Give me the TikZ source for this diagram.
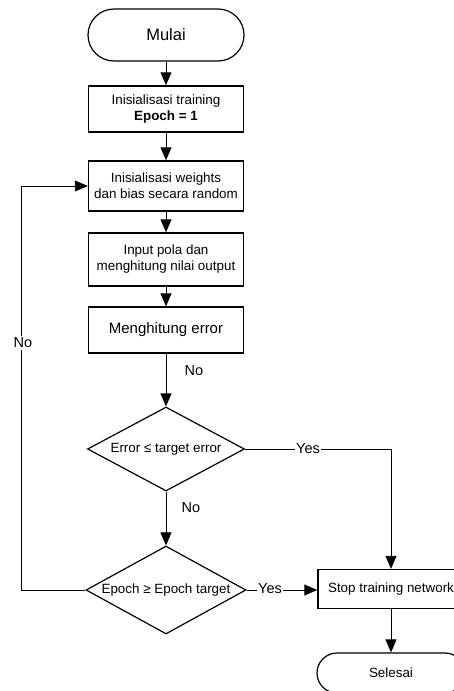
\documentclass[tikz,border=0pt]{standalone}
\usepackage{fontspec}
\setmainfont{Liberation Sans}
\usetikzlibrary{shapes.geometric,arrows.meta}
\begin{document}
\begin{tikzpicture}[x=1pt,y=-1pt,
  every node/.style={font=\fontsize{13.4}{16}\selectfont, align=center, text=black},
  procbox/.style={draw, line width=1.4pt, minimum width=155pt, inner sep=0pt},
  term/.style={draw, line width=1.2pt, rounded corners=#1, inner sep=0pt},
  decide/.style={draw, line width=1.2pt, shape=diamond, inner sep=0pt},
  conn/.style={line width=0.9pt, -{Triangle[length=13pt,width=11pt]}},
  lbl/.style={font=\fontsize{14.5}{16}\selectfont, fill=white, inner sep=1.5pt}
]
\useasboundingbox (0,0) rectangle (454,691);
\node[term=26pt, minimum width=156pt, minimum height=52pt, font=\fontsize{16.5}{18}\selectfont] (mulai) at (166,35) {Mulai};
\node[procbox, minimum height=46pt] (b1) at (166,109) {Inisialisasi training\\\textbf{Epoch = 1}};
\node[procbox, minimum height=50pt] (b2) at (166,186) {Inisialisasi weights\\dan bias secara random};
\node[procbox, minimum height=53pt] (b3) at (166,259.5) {Input pola dan\\menghitung nilai output};
\node[procbox, minimum height=46pt, font=\fontsize{15}{17}\selectfont] (b4) at (166,330) {Menghitung error};
\node[decide, aspect=1.9, minimum width=157pt, minimum height=84pt] (d1) at (166,449) {Error ≤ target error};
\node[decide, aspect=1.82, minimum width=160pt, minimum height=88pt] (d2) at (166,590) {Epoch ≥ Epoch target};
\node[procbox, minimum width=146pt, minimum height=39pt] (stop) at (391,589) {Stop training network};
\node[term=20pt, minimum width=148pt, minimum height=40pt] (selesai) at (391,673) {Selesai};
\coordinate (c1) at (391,449);
\coordinate (c2) at (21,590);
\coordinate (c3) at (21,186);

\draw[conn] (mulai) -- (b1);
\draw[conn] (b1) -- (b2);
\draw[conn] (b2) -- (b3);
\draw[conn] (b3) -- (b4);
\draw[conn] (b4) -- (d1);
\draw[conn] (d1.east) -- (c1) -- (stop.north);
\draw[conn] (d1) -- (d2);
\draw[conn] (d2.east) -- (d2.east -| stop.west);
\draw[conn] (stop) -- (selesai);
\draw[conn] (d2.west) -- (c2) -- (c3) -- (b2.west);

\node[lbl] (l1) at (194,371) {No};
\node[lbl] (l2) at (308,449) {Yes};
\node[lbl] (l3) at (191,508) {No};
\node[lbl] (l4) at (270,589) {Yes};
\node[lbl] (l5) at (23,343) {No};
\end{tikzpicture}
\end{document}
